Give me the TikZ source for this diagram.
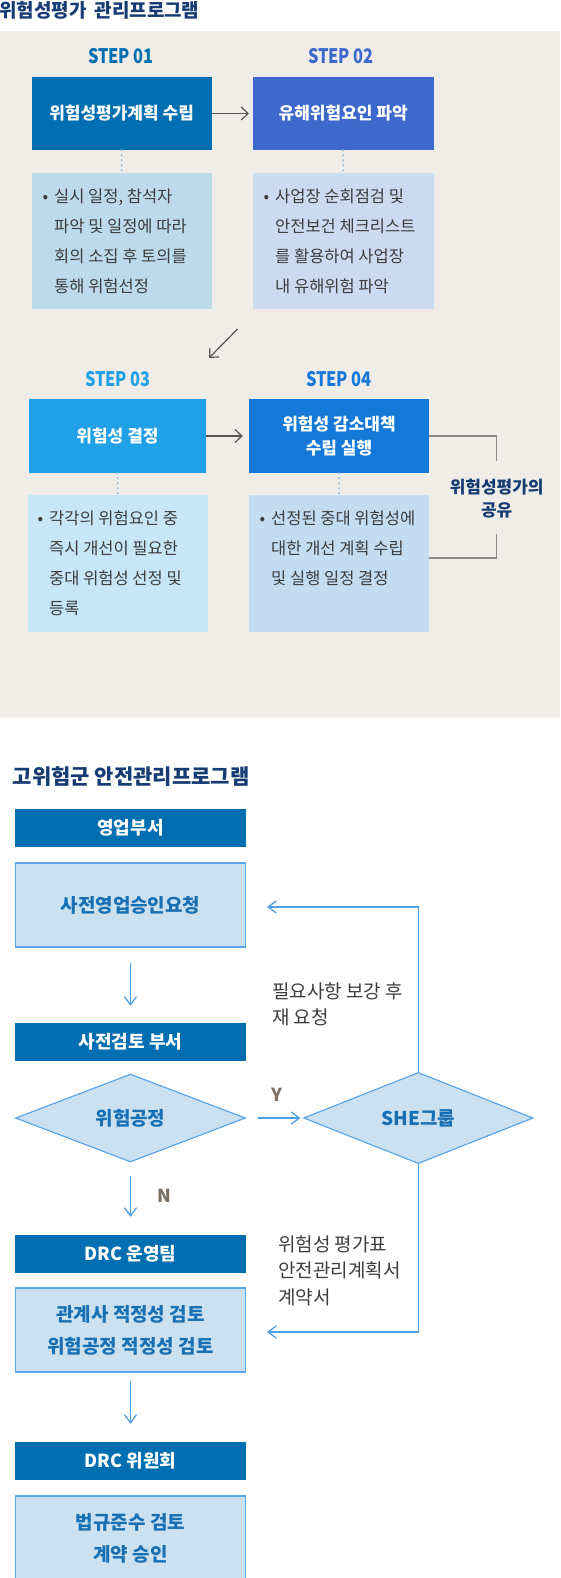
\documentclass[tikz,border=0pt]{standalone}
\usepackage{fontspec}
\setmainfont{Noto Sans CJK KR}
\newfontfamily\stepfont{Noto Sans CJK KR}[FakeStretch=0.82]
\usepackage{tikz}
\usetikzlibrary{arrows.meta,shapes.geometric}

\definecolor{beige}{HTML}{F0EDE8}
\definecolor{navy}{HTML}{173C73}
\definecolor{stepone}{HTML}{006FB1}
\definecolor{steptwo}{HTML}{3E69CC}
\definecolor{stepthree}{HTML}{20A0E6}
\definecolor{stepfour}{HTML}{1479D8}
\definecolor{descone}{HTML}{BDDAEB}
\definecolor{desctwo}{HTML}{CCDAF0}
\definecolor{descthree}{HTML}{C7E6F7}
\definecolor{descfour}{HTML}{C3DCF2}
\definecolor{dotcol}{HTML}{8FBDE3}
\definecolor{arrgray}{HTML}{555555}
\definecolor{brgray}{HTML}{8A8A8A}
\definecolor{txtgray}{HTML}{3D3D3D}
\definecolor{darkbox}{HTML}{006FB1}
\definecolor{lightbox}{HTML}{CCE1EF}
\definecolor{lightborder}{HTML}{5BA6E8}
\definecolor{bluetxt}{HTML}{1670B3}
\definecolor{arrowblue}{HTML}{4E9FE6}
\definecolor{yncol}{HTML}{7C7064}

\newcommand{\bulletmark}{\makebox[11.5pt][l]{\textbullet}}
\newcommand{\bulletgap}{\hspace*{11.5pt}}

\begin{document}
\begin{tikzpicture}[
    x=1pt, y=-1pt,
    head/.style={anchor=west, inner sep=0pt, text=navy, font=\fontsize{19}{22}\selectfont\bfseries},
    steplbl/.style={inner sep=0pt, font=\stepfont\fontsize{20}{24}\selectfont\bfseries},
    stepbox/.style={rectangle, minimum width=180pt, minimum height=73pt, inner sep=0pt, align=center, text=white, font=\fontsize{17}{24}\selectfont\bfseries},
    descbox/.style={rectangle, minimum width=180pt, minimum height=136pt, inner sep=0pt},
    desctxt/.style={anchor=north west, inner sep=0pt, align=left, text=txtgray, font=\fontsize{16.5}{30}\selectfont},
    link/.style={arrgray, line width=1.2pt, -{Straight Barb[length=7pt,width=13pt]}},
    dotline/.style={dotcol, line width=2.2pt, line cap=round, dash pattern=on 0pt off 5pt},
    bracket/.style={brgray, line width=1.2pt},
    dept/.style={rectangle, fill=darkbox, minimum width=231pt, minimum height=38pt, inner sep=0pt, text=white, font=\fontsize{18}{24}\selectfont\bfseries},
    task/.style={rectangle, draw=lightborder, line width=1.2pt, fill=lightbox, minimum width=230pt, minimum height=84pt, inner sep=0pt, align=center, text=bluetxt, font=\fontsize{19}{32}\selectfont\bfseries},
    decide/.style={diamond, draw=lightborder, line width=1.2pt, fill=lightbox, inner sep=0pt, text=bluetxt, font=\fontsize{19}{24}\selectfont\bfseries},
    flow/.style={arrowblue, line width=1.3pt, -{Straight Barb[length=8pt,width=12pt]}},
    note/.style={anchor=north west, inner sep=0pt, align=left, text=txtgray, font=\fontsize{19}{26.5}\selectfont},
    yn/.style={inner sep=0pt, text=yncol, font=\fontsize{18}{20}\selectfont\bfseries}
  ]
    \clip (0,0) rectangle (560,1578);
    \fill[beige] (0,31) rectangle (560,718);

    \node[head] (title1) at (-1,10) {위험성평가\hspace{8pt}관리프로그램};

    \node[steplbl, text=stepone] (step1) at (121,56) {STEP 01};
    \node[steplbl, text=steptwo] (step2) at (341,56) {STEP 02};
    \node[stepbox, fill=stepone] (plan) at (121.6,113.5) {위험성평가계획 수립};
    \node[stepbox, fill=steptwo, minimum width=181pt] (identify) at (343.2,113.5) {유해위험요인 파악};
    \node[descbox, fill=descone] (plandesc) at (121.6,241) {};
    \node[descbox, fill=desctwo, minimum width=181pt] (identifydesc) at (343.2,241) {};
    \node[desctxt] (plantxt) at (42.5,188.5) {\bulletmark 실시 일정, 참석자\\\bulletgap 파악 및 일정에 따라\\\bulletgap 회의 소집 후 토의를\\\bulletgap 통해 위험선정};
    \node[desctxt] (identifytxt) at (263.5,188.5) {\bulletmark 사업장 순회점검 및\\\bulletgap 안전보건 체크리스트\\\bulletgap 를 활용하여 사업장\\\bulletgap 내 유해위험 파악};

    \draw[link, shorten >=3.5pt] (plan) -- (identify);
    \draw[dotline] (plan.south) -- (plandesc.north);
    \draw[dotline] (identify.south) -- (identifydesc.north);

    \coordinate (turnfrom) at (237.5,329);
    \coordinate (turnto) at (209,358);
    \draw[link] (turnfrom) -- (turnto);

    \node[steplbl, text=stepthree] (step3) at (118,379) {STEP 03};
    \node[steplbl, text=stepfour] (step4) at (339,379) {STEP 04};
    \node[stepbox, fill=stepthree, minimum width=177pt, minimum height=74pt] (judge) at (117.5,436) {위험성 결정};
    \node[stepbox, fill=stepfour, minimum height=74pt] (reduce) at (339,436) {위험성 감소대책\\수립 실행};
    \node[descbox, fill=descthree, minimum width=180.5pt, minimum height=137pt] (judgedesc) at (117.75,563.5) {};
    \node[descbox, fill=descfour, minimum height=137pt] (reducedesc) at (339,563.5) {};
    \node[desctxt] (judgetxt) at (37.5,510.5) {\bulletmark 각각의 위험요인 중\\\bulletgap 즉시 개선이 필요한\\\bulletgap 중대 위험성 선정 및\\\bulletgap 등록};
    \node[desctxt] (reducetxt) at (259.5,510.5) {\bulletmark 선정된 중대 위험성에\\\bulletgap 대한 개선 계획 수립\\\bulletgap 및 실행 일정 결정};

    \draw[link, shorten >=6pt] (judge) -- (reduce);
    \draw[dotline] (judge.south) -- (judgedesc.north);
    \draw[dotline] (reduce.south) -- (reducedesc.north);

    \node[head, anchor=center, align=center, font=\fontsize{17}{23.5}\selectfont\bfseries] (share) at (496.7,498.5) {위험성평가의\\공유};
    \draw[bracket] (reduce.east) -| ([yshift=38pt]share.center);
    \draw[bracket] ([yshift=-35.5pt]share.center) |- ([yshift=5.5pt]reducedesc.east);

    \node[head, font=\fontsize{21}{24}\selectfont\bfseries] (title2) at (12.5,777) {고위험군 안전관리프로그램};

    \node[dept] (sales) at (130.5,828) {영업부서};
    \node[task] (request) at (130.5,905) {사전영업승인요청};
    \node[dept] (review) at (130.5,1042) {사전검토 부서};
    \node[decide, minimum width=230pt, minimum height=83pt] (hazard) at (130.5,1118) {위험공정};
    \node[decide, minimum width=229.5pt, minimum height=89pt] (she) at (418.3,1118) {SHE그룹};
    \node[dept] (drcteam) at (130.5,1254) {DRC 운영팀};
    \node[task] (check) at (130.5,1330) {관계사 적정성 검토\\위험공정 적정성 검토};
    \node[dept] (drcboard) at (130.5,1461) {DRC 위원회};
    \node[task] (approve) at (130.5,1538) {법규준수 검토\\계약 승인};

    \draw[flow, shorten <=15pt, shorten >=17pt] (request) -- (review);
    \draw[flow, shorten <=11.5pt, shorten >=2.5pt] (hazard) -- (she);
    \node[yn] (yes) at (276.7,1095) {Y};
    \draw[flow, shorten <=13pt, shorten >=18pt] (hazard) -- (drcteam);
    \node[yn] (no) at (164,1196) {N};
    \draw[flow, shorten <=8pt, shorten >=18pt] (check) -- (drcboard);
    \draw[flow, shorten >=21pt] (she.north) |- ([yshift=-2pt]request.east);
    \draw[flow, shorten >=21pt] (she.south) |- ([yshift=-2pt]check.east);

    \node[note] (resubmit) at (272,982) {필요사항 보강 후\\재 요청};
    \node[note] (docs) at (278,1235) {위험성 평가표\\안전관리계획서\\계약서};
  \end{tikzpicture}
\end{document}
